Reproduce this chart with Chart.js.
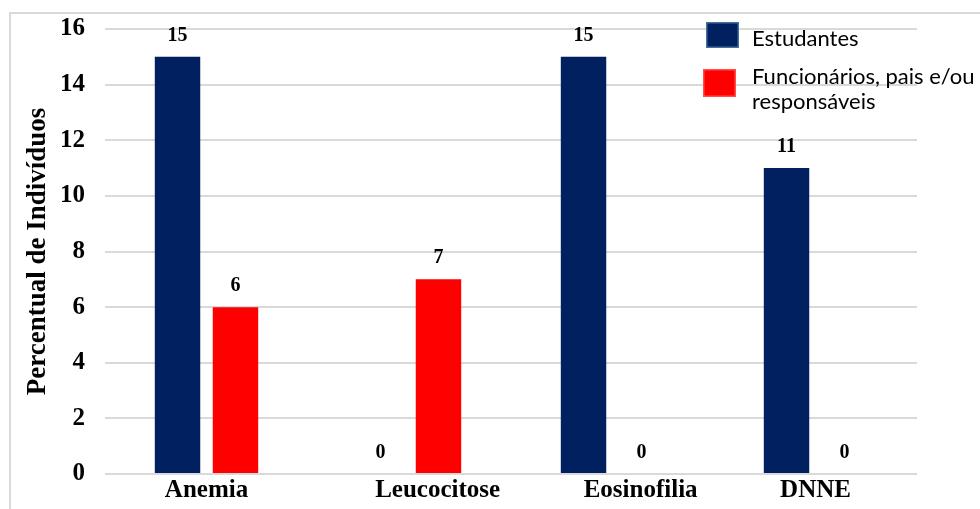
<!DOCTYPE html>
<html>
<head>
<meta charset="utf-8">
<script src="https://cdn.jsdelivr.net/npm/chart.js@4/dist/chart.umd.min.js"></script>
<style>
  html, body { margin: 0; padding: 0; background: #ffffff; overflow: hidden; }
  #wrap { position: relative; width: 980px; height: 509px; }
  #frame {
    position: absolute; left: 9px; top: 12px; width: 1200px; height: 800px;
    border-left: 2px solid #d9d9d9; border-top: 2px solid #d9d9d9;
  }
  #chart { position: absolute; left: 0; top: 0; }
</style>
</head>
<body>
<div id="wrap">
  <div id="frame"></div>
  <canvas id="chart" width="980" height="509"></canvas>
</div>
<script>
// Categories (two labels carry leading spaces, as in the source sheet)
const categories = ['Anemia', '         Leucocitose', '         Eosinofilia', 'DNNE'];
const estudantes = [15, 0, 15, 11];
const funcionarios = [6, 7, 0, 0];
const seriesNames = ['Estudantes', 'Funcionários, pais e/ou responsáveis'];
const yTicks = [0, 2, 4, 6, 8, 10, 12, 14, 16];

const NAVY = '#002060';
const RED = '#ff0000';
const SERIF = '"Liberation Serif", "Times New Roman", serif';
const SANS = 'Lato, Carlito, "Open Sans", sans-serif';

// Value labels above each bar
const valueLabels = {
  id: 'valueLabels',
  afterDatasetsDraw(chart) {
    const ctx = chart.ctx;
    ctx.save();
    ctx.font = 'bold 20px ' + SERIF;
    ctx.fillStyle = '#000000';
    ctx.textAlign = 'center';
    ctx.textBaseline = 'alphabetic';
    chart.data.datasets.forEach((ds, di) => {
      const meta = chart.getDatasetMeta(di);
      meta.data.forEach((bar, i) => {
        ctx.fillText(String(ds.data[i]), bar.x, bar.y - 16);
      });
    });
    ctx.restore();
  }
};

// Legend in the upper right, over the plot
const cornerLegend = {
  id: 'cornerLegend',
  afterDraw(chart) {
    const ctx = chart.ctx;
    const textX = 752;
    const rows = [
      { box: [706, 22, 33, 26], border: '#41719c', textY: 39 },
      { box: [703, 69, 33, 28], border: '#ff4d4d', textY: 77 }
    ];
    ctx.save();
    ctx.font = '22px ' + SANS;
    ctx.textAlign = 'left';
    ctx.textBaseline = 'middle';
    chart.data.datasets.forEach((ds, i) => {
      const r = rows[i];
      const [bx, by, bw, bh] = r.box;
      ctx.fillStyle = ds.backgroundColor;
      ctx.fillRect(bx, by, bw, bh);
      ctx.strokeStyle = r.border;
      ctx.lineWidth = 1.5;
      ctx.strokeRect(bx + 0.75, by + 0.75, bw - 1.5, bh - 1.5);
      // wrap the series name to the canvas edge
      const maxW = chart.width - textX;
      const words = ds.label.split(' ');
      const lines = [];
      let line = '';
      words.forEach(w => {
        const test = line ? line + ' ' + w : w;
        if (ctx.measureText(test).width > maxW && line) { lines.push(line); line = w; }
        else line = test;
      });
      lines.push(line);
      ctx.fillStyle = '#000000';
      lines.forEach((l, k) => ctx.fillText(l, textX, r.textY + k * 25));
    });
    ctx.restore();
  }
};

new Chart(document.getElementById('chart'), {
  type: 'bar',
  data: {
    labels: categories,
    datasets: [
      { label: seriesNames[0], data: estudantes, backgroundColor: NAVY,
        categoryPercentage: 0.571, barPercentage: 0.784 },
      { label: seriesNames[1], data: funcionarios, backgroundColor: RED,
        categoryPercentage: 0.571, barPercentage: 0.784 }
    ]
  },
  options: {
    responsive: false,
    animation: false,
    devicePixelRatio: 1,
    layout: { padding: { left: 22, right: 63, top: 29, bottom: 0 } },
    plugins: {
      legend: { display: false },
      tooltip: { enabled: false }
    },
    scales: {
      x: {
        grid: { display: false, drawTicks: false },
        border: { display: false },
        ticks: {
          color: '#000000',
          font: { family: SERIF, size: 25, weight: 'bold' },
          padding: 2,
          maxRotation: 0,
          autoSkip: false
        },
        afterFit(scale) { scale.height = 35; }
      },
      y: {
        min: 0,
        max: 16,
        afterBuildTicks(scale) { scale.ticks = yTicks.map(v => ({ value: v })); },
        grid: { color: '#d9d9d9', lineWidth: 2, drawTicks: false },
        border: { display: false },
        ticks: {
          color: '#000000',
          font: { family: SERIF, size: 25, weight: 'bold' },
          padding: 20
        },
        title: {
          display: true,
          text: 'Percentual de Indivíduos',
          color: '#000000',
          font: { family: SERIF, size: 27, weight: 'bold' },
          padding: 0
        },
        afterFit(scale) {
          scale.width = 83;
          scale.paddingTop = 0;
          scale.paddingBottom = 0;
        }
      }
    }
  },
  plugins: [valueLabels, cornerLegend]
});
</script>
</body>
</html>
